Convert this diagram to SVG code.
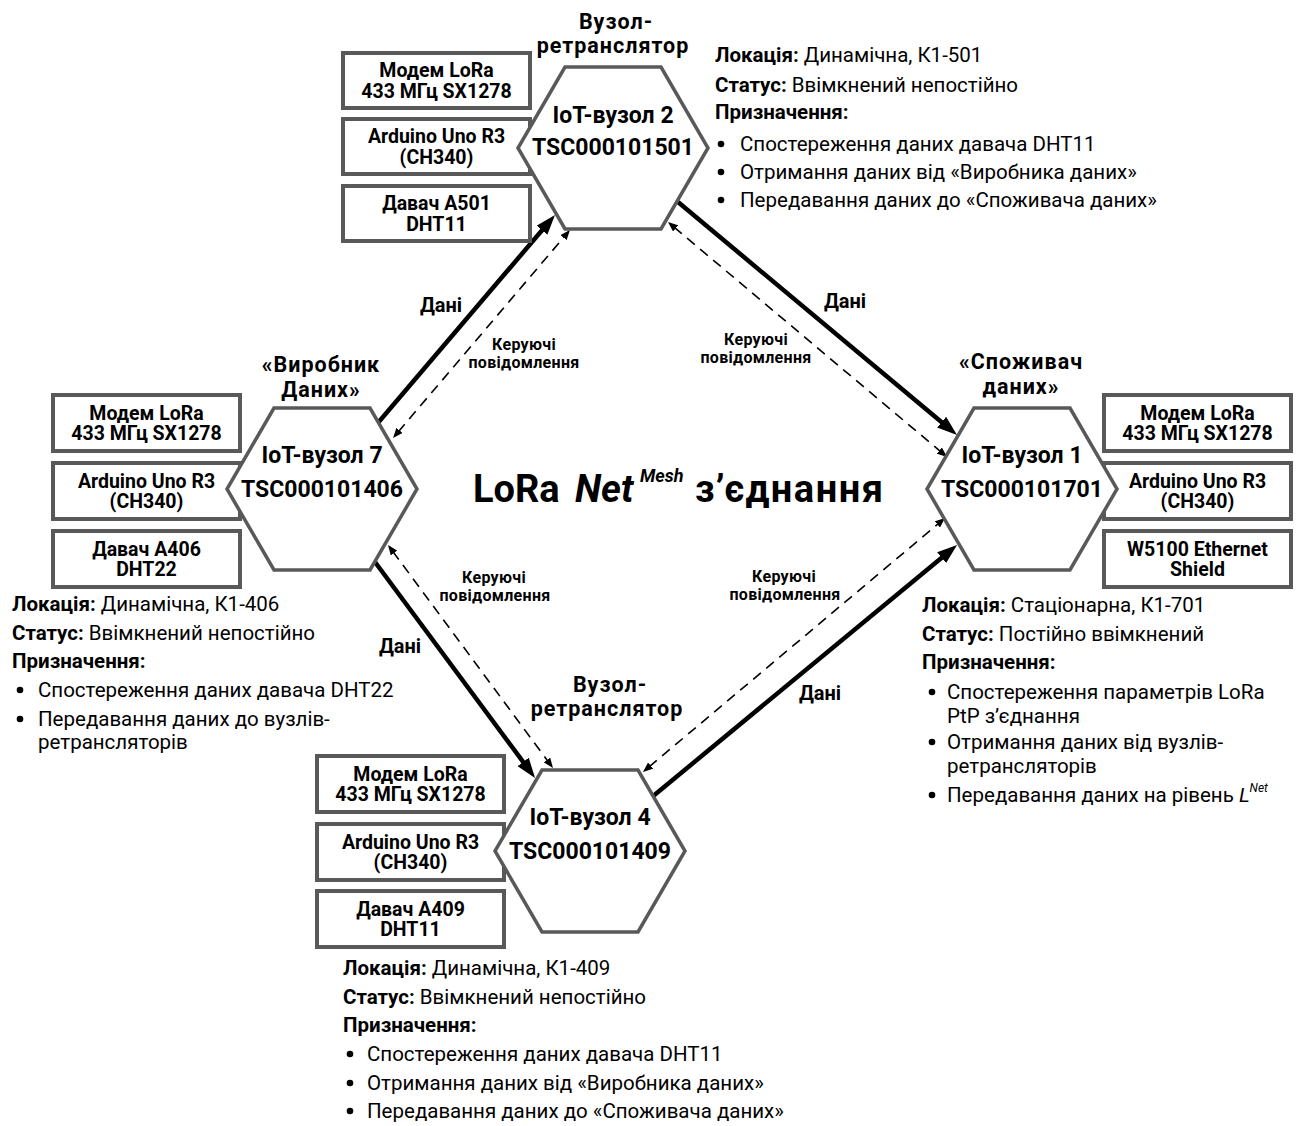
<svg xmlns="http://www.w3.org/2000/svg" width="1296" height="1126" viewBox="0 0 1296 1126">
<style>
text{font-family:Roboto,"Noto Sans","DejaVu Sans",sans-serif;fill:#000}
.hex{fill:#fff;stroke:#595959;stroke-width:3.5;stroke-linejoin:miter}
.box{fill:#fff;stroke:#595959;stroke-width:4}
.bt{font-weight:bold;font-size:19.5px;text-anchor:middle}
.ht{font-weight:bold;font-size:23px;text-anchor:middle}
.role{font-weight:bold;font-size:21.5px;letter-spacing:1px;text-anchor:middle}
.info{font-size:20.5px}
.dot{fill:#000}
.b{font-weight:bold}
.lbl{font-weight:bold;font-size:20px;text-anchor:middle}
.ctl{font-weight:bold;font-size:16px;letter-spacing:0.3px;text-anchor:middle}
.title{font-weight:bold;font-size:38px}
.sup{font-weight:bold;font-style:italic;font-size:18px}
.thick{stroke:#000;stroke-width:4.5;fill:none;marker-end:url(#ah)}
.dash{stroke:#000;stroke-width:1.6;fill:none;stroke-dasharray:10 7;marker-start:url(#as);marker-end:url(#as)}
</style>
<defs>
<marker id="ah" viewBox="0 0 20 14" refX="4" refY="7" markerWidth="20" markerHeight="14" markerUnits="userSpaceOnUse" orient="auto"><path d="M0,0 L20,7 L0,14 z" fill="#000"/></marker>
<marker id="as" viewBox="0 0 10 8" refX="2" refY="4" markerWidth="10" markerHeight="8" markerUnits="userSpaceOnUse" orient="auto-start-reverse"><path d="M0,0 L10,4 L0,8 z" fill="#000"/></marker>
</defs>
<rect width="1296" height="1126" fill="#fff"/>

<g id="connectors">
<line class="thick" x1="377" y1="424" x2="544.6" y2="227.2"/>
<line class="dash" x1="398.2" y1="431.9" x2="564.8" y2="236.1"/>
<line class="thick" x1="678" y1="202" x2="944.7" y2="424.7"/>
<line class="dash" x1="674.1" y1="227.2" x2="940.9" y2="451.8"/>
<line class="thick" x1="375" y1="562" x2="525.5" y2="765.1"/>
<line class="dash" x1="392.8" y1="551.4" x2="548.2" y2="761.6"/>
<line class="thick" x1="652" y1="797" x2="944.7" y2="555.2"/>
<line class="dash" x1="649.1" y1="766.8" x2="938.9" y2="523.2"/>
<text class="lbl" x="441" y="312">Дані</text>
<text class="ctl" x="524" y="350">Керуючі</text>
<text class="ctl" x="524" y="368">повідомлення</text>
<text class="lbl" x="845" y="308">Дані</text>
<text class="ctl" x="756" y="345">Керуючі</text>
<text class="ctl" x="756" y="363">повідомлення</text>
<text class="lbl" x="400" y="653">Дані</text>
<text class="ctl" x="494" y="583">Керуючі</text>
<text class="ctl" x="495" y="601">повідомлення</text>
<text class="lbl" x="820" y="700">Дані</text>
<text class="ctl" x="784" y="582">Керуючі</text>
<text class="ctl" x="785" y="600">повідомлення</text>
</g>

<g id="title">
<text class="title" x="473" y="502">LoRa</text>
<text class="title" x="575" y="502" font-style="italic">Net</text>
<text class="sup" x="640" y="482">Mesh</text>
<text class="title" x="695" y="502" letter-spacing="1.5">з’єднання</text>
</g>

<g id="node2">
<rect class="box" x="343" y="53" width="187" height="55"/>
<text class="bt" x="436.5" y="77">Модем LoRa</text>
<text class="bt" x="436.5" y="97.5">433 МГц SX1278</text>
<rect class="box" x="343" y="119" width="187" height="55"/>
<text class="bt" x="436.5" y="143">Arduino Uno R3</text>
<text class="bt" x="436.5" y="163.5">(CH340)</text>
<rect class="box" x="343" y="186" width="187" height="55"/>
<text class="bt" x="436.5" y="210">Давач A501</text>
<text class="bt" x="436.5" y="230.5">DHT11</text>
<polygon class="hex" points="565,67 661,67 708,148 661,229 565,229 518,148"/>
<text class="ht" x="613" y="123">IoT-вузол 2</text>
<text class="ht" x="613" y="155">TSC000101501</text>
<text class="role" x="616" y="29">Вузол-</text>
<text class="role" x="613" y="53">ретранслятор</text>
<text class="info" x="715" y="62"><tspan class="b">Локація:</tspan> Динамічна, К1-501</text>
<text class="info" x="715" y="92"><tspan class="b">Статус:</tspan> Ввімкнений непостійно</text>
<text class="info b" x="715" y="119">Призначення:</text>
<circle class="dot" cx="721" cy="144" r="3.3"/>
<text class="info" x="740" y="151">Спостереження даних давача DHT11</text>
<circle class="dot" cx="721" cy="172" r="3.3"/>
<text class="info" x="740" y="179">Отримання даних від «Виробника даних»</text>
<circle class="dot" cx="721" cy="200" r="3.3"/>
<text class="info" x="740" y="207">Передавання даних до «Споживача даних»</text>
</g>

<g id="node7">
<rect class="box" x="53" y="395" width="187" height="56"/>
<text class="bt" x="146.5" y="419.5">Модем LoRa</text>
<text class="bt" x="146.5" y="440">433 МГц SX1278</text>
<rect class="box" x="53" y="463" width="187" height="56"/>
<text class="bt" x="146.5" y="487.5">Arduino Uno R3</text>
<text class="bt" x="146.5" y="508">(CH340)</text>
<rect class="box" x="53" y="531" width="187" height="56"/>
<text class="bt" x="146.5" y="555.5">Давач A406</text>
<text class="bt" x="146.5" y="576">DHT22</text>
<polygon class="hex" points="274,408 370,408 417,489 370,570 274,570 227,489"/>
<text class="ht" x="322" y="463">IoT-вузол 7</text>
<text class="ht" x="322" y="497">TSC000101406</text>
<text class="role" x="321" y="372">«Виробник</text>
<text class="role" x="321" y="397">Даних»</text>
<text class="info" x="12" y="611"><tspan class="b">Локація:</tspan> Динамічна, К1-406</text>
<text class="info" x="12" y="640"><tspan class="b">Статус:</tspan> Ввімкнений непостійно</text>
<text class="info b" x="12" y="668">Призначення:</text>
<circle class="dot" cx="20" cy="690" r="3.3"/>
<text class="info" x="38" y="697">Спостереження даних давача DHT22</text>
<circle class="dot" cx="20" cy="719" r="3.3"/>
<text class="info" x="38" y="726">Передавання даних до вузлів-</text>
<text class="info" x="38" y="749">ретрансляторів</text>
</g>

<g id="node1">
<rect class="box" x="1104" y="395" width="187" height="56"/>
<text class="bt" x="1197.5" y="419.5">Модем LoRa</text>
<text class="bt" x="1197.5" y="440">433 МГц SX1278</text>
<rect class="box" x="1104" y="463" width="187" height="56"/>
<text class="bt" x="1197.5" y="487.5">Arduino Uno R3</text>
<text class="bt" x="1197.5" y="508">(CH340)</text>
<rect class="box" x="1104" y="531" width="187" height="56"/>
<text class="bt" x="1197.5" y="555.5">W5100 Ethernet</text>
<text class="bt" x="1197.5" y="576">Shield</text>
<polygon class="hex" points="974,408 1070,408 1117,489 1070,570 974,570 927,489"/>
<text class="ht" x="1022" y="463">IoT-вузол 1</text>
<text class="ht" x="1022" y="497">TSC000101701</text>
<text class="role" x="1021" y="369">«Споживач</text>
<text class="role" x="1021" y="394">даних»</text>
<text class="info" x="922" y="612"><tspan class="b">Локація:</tspan> Стаціонарна, К1-701</text>
<text class="info" x="922" y="641"><tspan class="b">Статус:</tspan> Постійно ввімкнений</text>
<text class="info b" x="922" y="669">Призначення:</text>
<circle class="dot" cx="932" cy="692" r="3.3"/>
<text class="info" x="947" y="699">Спостереження параметрів LoRa</text>
<text class="info" x="947" y="723">PtP з’єднання</text>
<circle class="dot" cx="932" cy="742" r="3.3"/>
<text class="info" x="947" y="749">Отримання даних від вузлів-</text>
<text class="info" x="947" y="773">ретрансляторів</text>
<circle class="dot" cx="932" cy="795" r="3.3"/>
<text class="info" x="947" y="802">Передавання даних на рівень <tspan font-style="italic">L</tspan><tspan font-style="italic" font-size="12" dy="-10">Net</tspan></text>
</g>

<g id="node4">
<rect class="box" x="317" y="756" width="187" height="56"/>
<text class="bt" x="410.5" y="780.5">Модем LoRa</text>
<text class="bt" x="410.5" y="801">433 МГц SX1278</text>
<rect class="box" x="317" y="824" width="187" height="56"/>
<text class="bt" x="410.5" y="848.5">Arduino Uno R3</text>
<text class="bt" x="410.5" y="869">(CH340)</text>
<rect class="box" x="317" y="891" width="187" height="56"/>
<text class="bt" x="410.5" y="915.5">Давач A409</text>
<text class="bt" x="410.5" y="936">DHT11</text>
<polygon class="hex" points="542,770 638,770 685,851 638,932 542,932 495,851"/>
<text class="ht" x="590" y="825">IoT-вузол 4</text>
<text class="ht" x="590" y="859">TSC000101409</text>
<text class="role" x="610" y="692">Вузол-</text>
<text class="role" x="607" y="716">ретранслятор</text>
<text class="info" x="343" y="975"><tspan class="b">Локація:</tspan> Динамічна, К1-409</text>
<text class="info" x="343" y="1004"><tspan class="b">Статус:</tspan> Ввімкнений непостійно</text>
<text class="info b" x="343" y="1032">Призначення:</text>
<circle class="dot" cx="350" cy="1054" r="3.3"/>
<text class="info" x="367" y="1061">Спостереження даних давача DHT11</text>
<circle class="dot" cx="350" cy="1083" r="3.3"/>
<text class="info" x="367" y="1090">Отримання даних від «Виробника даних»</text>
<circle class="dot" cx="350" cy="1111" r="3.3"/>
<text class="info" x="367" y="1118">Передавання даних до «Споживача даних»</text>
</g>
</svg>
